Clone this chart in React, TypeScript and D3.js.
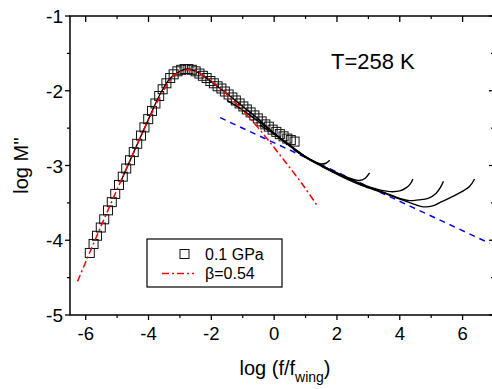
import * as d3 from "d3";

const W = 492;
const H = 389;

// squares: 0.1 GPa master curve
const sqX = [-5.87, -5.75, -5.64, -5.52, -5.41, -5.29, -5.17, -5.06, -4.94, -4.82, -4.71, -4.59, -4.47, -4.36, -4.24, -4.13, -4.01, -3.89, -3.78, -3.66, -3.55, -3.43, -3.31, -3.2, -3.08, -2.96, -2.85, -2.73, -2.62, -2.5, -2.38, -2.27, -2.15, -2.03, -1.92, -1.8, -1.68, -1.57, -1.45, -1.33, -1.22, -1.1, -0.98, -0.87, -0.75, -0.63, -0.52, -0.4, -0.28, -0.17, -0.05, 0.07, 0.18, 0.3, 0.42, 0.53, 0.65];
const sqY = [-4.17, -4.05, -3.94, -3.83, -3.72, -3.6, -3.49, -3.38, -3.26, -3.15, -3.04, -2.93, -2.82, -2.71, -2.6, -2.49, -2.38, -2.27, -2.17, -2.07, -1.98, -1.9, -1.83, -1.78, -1.74, -1.72, -1.71, -1.71, -1.72, -1.74, -1.77, -1.8, -1.83, -1.87, -1.9, -1.94, -1.97, -2.01, -2.05, -2.09, -2.13, -2.17, -2.21, -2.25, -2.29, -2.33, -2.37, -2.41, -2.45, -2.48, -2.52, -2.55, -2.58, -2.61, -2.64, -2.66, -2.68];

// KWW fit, beta = 0.54
const kwwX = [-6.26, -6.0, -5.5, -5.0, -4.5, -4.0, -3.5, -3.2, -3.0, -2.75, -2.5, -2.2, -2.0, -1.5, -1.0, -0.5, 0.0, 0.5, 1.0, 1.36];
const kwwY = [-4.55, -4.29, -3.8, -3.32, -2.85, -2.39, -1.98, -1.8, -1.75, -1.72, -1.74, -1.81, -1.87, -2.05, -2.26, -2.5, -2.76, -3.03, -3.31, -3.53];

// blue dashed asymptote
const wingX = [-1.72, 6.86];
const wingY = [-2.36, -4.04];

// black solid curves (other pressures)
const blackA: [number, number][] = [[-4.9, -3.23], [-4.5, -2.85], [-4.0, -2.38], [-3.6, -2.02], [-3.3, -1.83], [-3.0, -1.74], [-2.75, -1.71], [-2.4, -1.76], [-2.0, -1.88], [-1.5, -2.04], [-1.0, -2.21], [-0.5, -2.38], [0, -2.57], [0.5, -2.73], [1.0, -2.88], [1.3, -2.95], [1.5, -2.98], [1.65, -2.97], [1.77, -2.93]];
const blackB: [number, number][] = [[-1.5, -2.13], [-1.0, -2.26], [-0.5, -2.41], [0, -2.57], [0.5, -2.73], [1.0, -2.88], [1.6, -3.02], [2.0, -3.1], [2.4, -3.17], [2.72, -3.2], [2.9, -3.17], [3.04, -3.1]];
const blackC: [number, number][] = [[-0.46, -2.46], [0, -2.58], [0.5, -2.74], [1.0, -2.89], [1.6, -3.02], [2.2, -3.14], [2.8, -3.25], [3.3, -3.32], [3.7, -3.35], [4.0, -3.34], [4.2, -3.3], [4.33, -3.25], [4.42, -3.18]];
const blackD: [number, number][] = [[0.6, -2.78], [1.0, -2.89], [1.6, -3.03], [2.2, -3.15], [2.8, -3.26], [3.5, -3.36], [4.0, -3.44], [4.3, -3.47], [4.6, -3.46], [4.9, -3.44], [5.16, -3.37], [5.3, -3.29], [5.39, -3.21]];
const blackE: [number, number][] = [[1.5, -3.01], [2.2, -3.16], [2.8, -3.27], [3.5, -3.37], [4.0, -3.45], [4.4, -3.51], [4.7, -3.55], [5.05, -3.54], [5.3, -3.49], [5.8, -3.39], [6.22, -3.28], [6.38, -3.18]];
const blackCurves = [blackA, blackB, blackC, blackD, blackE];

const xTicks = [-6, -4, -2, 0, 2, 4, 6];
const xMinor = [-5, -3, -1, 1, 3, 5];
const yTicks = [-5, -4, -3, -2, -1];
const yMinor = [-4.5, -3.5, -2.5, -1.5];

const legendLabels = ["0.1 GPa", "\u03b2=0.54"];
const tempLabel = "T=258 K";

const FONT = "Arial, 'Liberation Sans', sans-serif";

export default function App() {
  const x = d3.scaleLinear().domain([-6.5, 7]).range([70, 494]);
  const y = d3.scaleLinear().domain([-5, -1]).range([315, 16]);

  const smooth = d3
    .line<[number, number]>()
    .x((d) => x(d[0]))
    .y((d) => y(d[1]))
    .curve(d3.curveCatmullRom);

  const kww = kwwX.map((v, i) => [v, kwwY[i]] as [number, number]);
  const wing = wingX.map((v, i) => [v, wingY[i]] as [number, number]);
  const straight = d3
    .line<[number, number]>()
    .x((d) => x(d[0]))
    .y((d) => y(d[1]));

  const [x0, x1] = x.range();
  const [y0, y1] = y.range();

  return (
    <svg
      width={W}
      height={H}
      style={{ position: "absolute", left: 0, top: 0, background: "white" }}
      fontFamily={FONT}
    >
      <defs>
        <clipPath id="plot">
          <rect x={x0} y={y1} width={x1 - x0} height={y0 - y1} />
        </clipPath>
      </defs>

      <g clipPath="url(#plot)">
        <path d={straight(wing) || ""} fill="none" stroke="#0000ff" strokeWidth={1.5} strokeDasharray="6,5" />
        {sqX.map((v, i) => (
          <rect
            key={i}
            x={x(v) - 4.5}
            y={y(sqY[i]) - 4.5}
            width={9}
            height={9}
            fill="none"
            stroke="#111"
            strokeWidth={1}
          />
        ))}
        {blackCurves.map((c, i) => (
          <path key={i} d={smooth(c) || ""} fill="none" stroke="black" strokeWidth={1.4} />
        ))}
        <path d={smooth(kww) || ""} fill="none" stroke="#ff0000" strokeWidth={1.5} strokeDasharray="7,3,2,3" />
      </g>

      {/* frame */}
      <rect x={x0} y={y1} width={x1 - x0} height={y0 - y1} fill="none" stroke="black" strokeWidth={1.5} />

      {/* x ticks */}
      {xTicks.map((t) => (
        <g key={"xt" + t}>
          <line x1={x(t)} x2={x(t)} y1={y0} y2={y0 + 5} stroke="black" strokeWidth={1.3} />
          <line x1={x(t)} x2={x(t)} y1={y1} y2={y1 + 6} stroke="black" strokeWidth={1.3} />
          <text x={x(t)} y={340} fontSize={18.5} textAnchor="middle">
            {t}
          </text>
        </g>
      ))}
      {xMinor.map((t) => (
        <g key={"xm" + t}>
          <line x1={x(t)} x2={x(t)} y1={y0} y2={y0 + 3} stroke="black" strokeWidth={1.2} />
          <line x1={x(t)} x2={x(t)} y1={y1} y2={y1 + 3} stroke="black" strokeWidth={1.2} />
        </g>
      ))}

      {/* y ticks */}
      {yTicks.map((t) => (
        <g key={"yt" + t}>
          <line x1={x0 - 5} x2={x0} y1={y(t)} y2={y(t)} stroke="black" strokeWidth={1.3} />
          <line x1={x1 - 5} x2={x1} y1={y(t)} y2={y(t)} stroke="black" strokeWidth={1.3} />
          <text x={63} y={y(t) + 7} fontSize={19} textAnchor="end">
            {t}
          </text>
        </g>
      ))}
      {yMinor.map((t) => (
        <g key={"ym" + t}>
          <line x1={x0 - 3} x2={x0} y1={y(t)} y2={y(t)} stroke="black" strokeWidth={1.2} />
          <line x1={x1 - 3} x2={x1} y1={y(t)} y2={y(t)} stroke="black" strokeWidth={1.2} />
        </g>
      ))}

      {/* axis titles */}
      <text
        transform={`translate(28, ${(y0 + y1) / 2}) rotate(-90)`}
        fontSize={20}
        textAnchor="middle"
      >
        log M''
      </text>
      <text x={(x0 + x1) / 2 + 3} y={375} fontSize={20} textAnchor="middle">
        log (f/f
        <tspan fontSize={14} dy={7}>
          wing
        </tspan>
        <tspan dy={-7}>)</tspan>
      </text>

      <text x={331} y={69} fontSize={22}>
        {tempLabel}
      </text>

      {/* legend */}
      <rect x={147} y={239} width={135} height={48} fill="white" stroke="black" strokeWidth={1.2} />
      <rect x={180} y={249.5} width={9} height={9} fill="none" stroke="#111" strokeWidth={1} />
      <text x={205} y={260} fontSize={16}>
        {legendLabels[0]}
      </text>
      <line x1={162} x2={194} y1={273.5} y2={273.5} stroke="#ff0000" strokeWidth={1.5} strokeDasharray="7,3,2,3" />
      <text x={205} y={279} fontSize={16}>
        {legendLabels[1]}
      </text>
    </svg>
  );
}
